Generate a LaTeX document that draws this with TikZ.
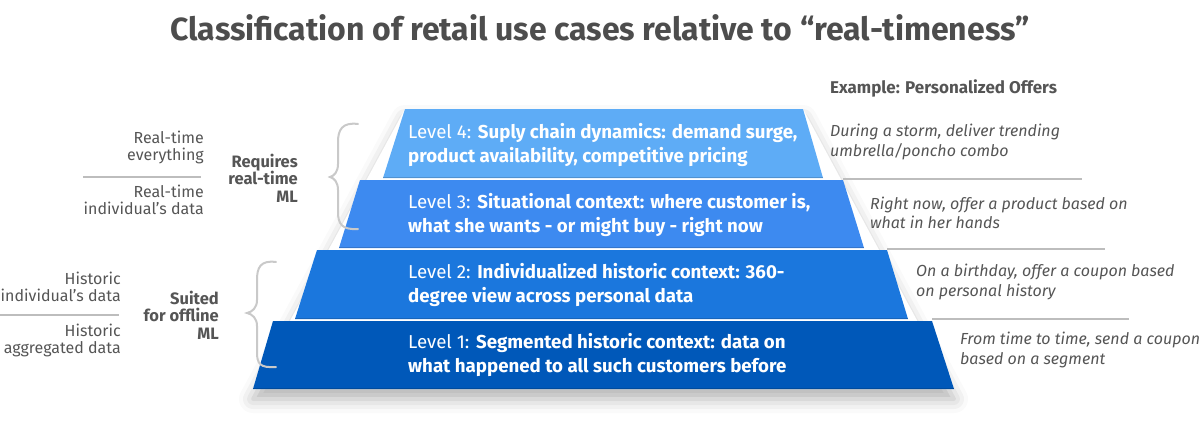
\documentclass[tikz,border=0pt]{standalone}
\usepackage{fontspec}
\setmainfont{Fira Sans}
\usetikzlibrary{shadows.blur}
\definecolor{lvfour}{HTML}{5EACF6}
\definecolor{lvthree}{HTML}{3D8AF0}
\definecolor{lvtwo}{HTML}{1B77DD}
\definecolor{lvone}{HTML}{0058B9}
\definecolor{textgray}{HTML}{555555}
\definecolor{titlegray}{HTML}{4D4D4D}
\definecolor{rulegray}{HTML}{BDBDBD}
\definecolor{bracegray}{HTML}{C9C9C9}

\begin{document}
\begin{tikzpicture}[x=1pt, y=-1pt,
  lvtext/.style={anchor=west, align=left, text=white, inner sep=0pt,
    font=\fontsize{18.7}{24.5}\selectfont},
  example/.style={anchor=west, align=left, text=textgray, inner sep=0pt,
    font=\fontsize{16}{19.5}\selectfont\itshape},
  sidelabel/.style={anchor=east, align=right, text=textgray, inner sep=0pt,
    font=\fontsize{16}{17}\selectfont},
  mlgroup/.style={anchor=east, align=right, text=textgray, inner sep=0pt,
    font=\fontsize{16.5}{17.5}\selectfont\bfseries},
  rule/.style={draw=rulegray, line width=1.2pt},
  brace/.style={draw=bracegray, line width=2pt, line cap=round}]
  \useasboundingbox (0,0) rectangle (1200,434);

  % title
  \node[font=\fontsize{32}{38}\selectfont\bfseries, text=titlegray] (title) at (600,28)
    {Classification of retail use cases relative to “real-timeness”};
  \node[anchor=west, inner sep=0pt, text=textgray,
    font=\fontsize{17}{20}\selectfont\bfseries] (exhead) at (830,88) {Example: Personalized Offers};

  % pyramid with its shadow
  \fill[white, blur shadow={shadow xshift=0pt, shadow yshift=-10pt,
    shadow opacity=30, shadow blur radius=14pt}]
    (405,109) -- (803,109) -- (954,389) -- (253,389) -- cycle;
  \foreach \col/\ytop/\ybot/\xtl/\xtr/\xbl/\xbr in
    {lvfour/109/178/405/803/383/823, lvthree/180/248/360/843/339/864,
     lvtwo/250/319/317/887/295/908, lvone/321/389/273/932/253/954}
  {
    \fill[\col] (\xtl,\ytop) -- (\xtr,\ytop) -- (\xbr,\ybot) -- (\xbl,\ybot) -- cycle;
    \draw[\col!85!black, line width=1.5pt] (\xbl,\ybot-0.75) -- (\xbr,\ybot-0.75);
  }

  \node[lvtext] (lfour) at (408,145) {Level 4: \textbf{Suply chain dynamics: demand surge,}\\
    \textbf{product availability, competitive pricing}};
  \node[lvtext] (lthree) at (408,215) {Level 3: \textbf{Situational context: where customer is,}\\
    \textbf{what she wants - or might buy - right now}};
  \node[lvtext] (ltwo) at (408,285) {Level 2: \textbf{Individualized historic context: 360-}\\
    \textbf{degree view across personal data}};
  \node[lvtext] (lone) at (408,355) {Level 1: \textbf{Segmented historic context: data on}\\
    \textbf{what happened to all such customers before}};

  % examples on the right
  \node[example] (exfour) at (830,142) {During a storm, deliver trending\\umbrella/poncho combo};
  \node[example] (exthree) at (870,213) {Right now, offer a product based on\\what in her hands};
  \node[example] (extwo) at (916,282) {On a birthday, offer a coupon based\\on personal history};
  \node[example] (exone) at (960,350) {From time to time, send a coupon\\based on a segment};
  \draw[rule] (843,179) -- (1082,179);
  \draw[rule] (887,249) -- (1105,249);
  \draw[rule] (932,319) -- (1129,319);

  % data kinds on the left
  \node[sidelabel] (rtevery) at (204,147) {Real-time\\everything};
  \node[sidelabel] (rtindiv) at (204,200) {Real-time\\individual’s data};
  \node[sidelabel] (hsindiv) at (121,287) {Historic\\individual’s data};
  \node[sidelabel] (hsagg) at (121,340) {Historic\\aggregated data};
  \draw[rule] (83,177) -- (201,177);
  \draw[rule] (0,315) -- (119,315);

  \node[mlgroup] (realml) at (298,178) {Requires\\real-time\\ML};
  \node[mlgroup] (offml) at (219,315) {Suited\\for offline\\ML};

  % braces
  \draw[brace] (358,124) .. controls (342,122) and (338,130) .. (338,142) -- (338,164)
    .. controls (338,172) and (334,176) .. (330,177) .. controls (334,178) and (338,182) .. (338,190)
    -- (338,212) .. controls (338,224) and (342,230) .. (358,229);
  \draw[brace] (276,262) .. controls (260,260) and (257,268) .. (257,280) -- (257,300)
    .. controls (257,308) and (252,312) .. (247,313) .. controls (252,314) and (257,318) .. (257,326)
    -- (257,352) .. controls (257,364) and (260,368) .. (276,367);
\end{tikzpicture}
\end{document}
